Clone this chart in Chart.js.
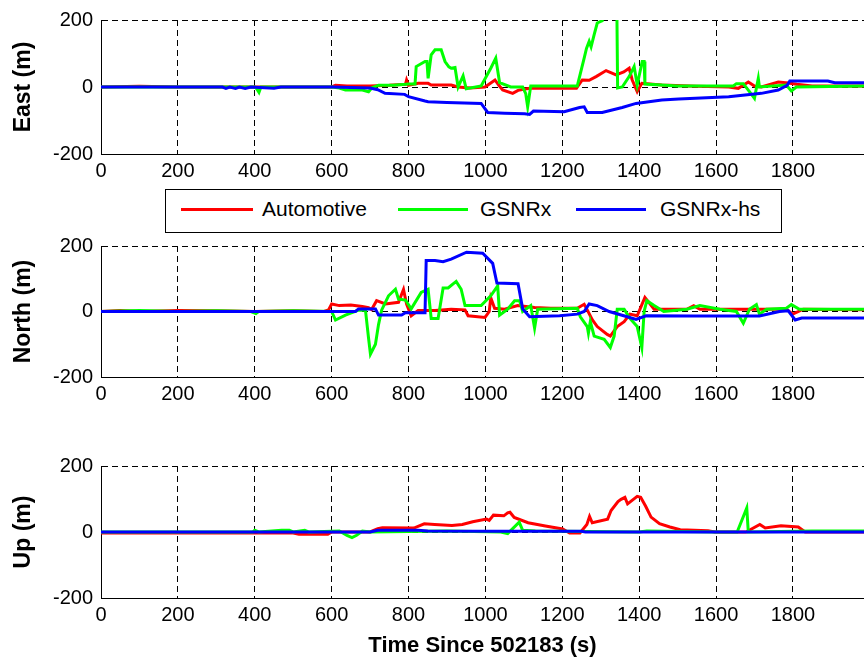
<!DOCTYPE html>
<html>
<head>
<script src="https://cdn.jsdelivr.net/npm/chart.js@4.4.0/dist/chart.umd.min.js"></script>
<style>
body{margin:0;background:#fff;width:864px;height:664px;overflow:hidden;position:relative;font-family:"Liberation Sans",Arial,sans-serif}
canvas{position:absolute;left:0}
#legend{position:absolute;left:165px;top:189px;width:617px;height:44px;border:1px solid #000;box-sizing:border-box;background:#fff;z-index:2}
.sw{position:absolute;height:3px;top:18px}
.lb{position:absolute;top:7px;font-size:21px;line-height:24px;color:#000}
</style>
</head>
<body>

<canvas id="east" width="864" height="190" style="top:0px"></canvas>
<canvas id="north" width="864" height="186" style="top:226px"></canvas>
<canvas id="up" width="864" height="228" style="top:436px"></canvas>

<div id="legend">
  <div class="sw" style="left:15px;width:72px;background:#ff0000"></div><div class="lb" style="left:96px">Automotive</div>
  <div class="sw" style="left:232px;width:70px;background:#00ff00"></div><div class="lb" style="left:314px">GSNRx</div>
  <div class="sw" style="left:410px;width:70px;background:#0000ff"></div><div class="lb" style="left:494px">GSNRx-hs</div>
</div>

<script>
var names = ["Automotive", "GSNRx", "GSNRx-hs"];
var colors = ["#ff0000", "#00ff00", "#0000ff"];
var xTicks = [0, 200, 400, 600, 800, 1000, 1200, 1400, 1600, 1800];
var yTicks = [-200, 0, 200];

// East error
var eastAutoT = [0,100,200,300,400,500,600,610,640,700,750,792,795,800,825,851,859,911,929,960,999,1014,1025,1035,1045,1071,1085,1115,1237,1252,1270,1288,1314,1340,1360,1374,1382,1395,1407,1459,1550,1633,1658,1684,1700,1718,1762,1788,1810,1850,1985];
var eastAutoV = [0,2,0,0,0,0,0,5,3,3,5,8,21,5,11,11,6,6,0,-3,0,12,21,5,-9,-19,-10,-4,-4,21,20,31,49,36,45,56,21,-14,11,6,2,0,-4,15,3,0,15,12,8,3,3];
var eastGsT = [0,300,400,405,411,416,500,600,620,636,680,696,705,722,760,792,800,817,820,843,848,851,859,869,885,895,905,911,921,929,942,950,989,1014,1027,1037,1066,1097,1105,1110,1118,1180,1239,1247,1257,1263,1270,1275,1283,1291,1304,1309,1342,1344,1356,1374,1387,1395,1408,1413,1415,1500,1645,1653,1671,1687,1700,1710,1713,1783,1796,1809,1985];
var eastGsV = [0,0,0,-5,-16,0,0,0,-3,-9,-9,-14,-2,5,5,8,9,9,61,76,76,26,96,111,111,76,60,56,58,0,33,-5,3,56,86,13,0,0,-20,-59,3,3,3,40,86,115,136,120,156,191,198,240,240,-3,0,31,61,6,76,76,9,3,3,10,10,-14,-34,26,0,6,-12,0,3];
var eastHsT = [0,316,325,335,350,360,375,390,450,468,600,700,720,739,790,800,843,851,900,989,1006,1050,1102,1115,1125,1205,1245,1257,1265,1304,1356,1392,1459,1503,1633,1718,1762,1785,1792,1891,1909,1985];
var eastHsV = [0,0,-4,0,-4,0,-4,0,-4,0,0,-3,-8,-19,-22,-29,-42,-44,-46,-49,-76,-78,-80,-82,-72,-74,-61,-59,-76,-76,-61,-49,-39,-36,-29,-19,-9,5,18,18,13,13];

// North error
var northAutoT = [0,50,100,200,300,400,500,580,592,600,620,650,680,696,704,717,740,774,787,795,807,825,869,911,947,955,999,1010,1014,1024,1050,1084,1128,1170,1239,1257,1265,1278,1291,1317,1325,1343,1361,1376,1395,1415,1439,1524,1542,1558,1783,1800,1827,1985];
var northAutoV = [0,3,0,3,2,0,2,0,5,23,18,20,15,12,6,33,23,28,67,23,-13,3,3,7,5,-13,-18,0,42,10,7,18,12,10,10,22,5,-25,-46,-70,-75,-46,-31,-8,-13,43,7,7,18,7,7,-8,7,5];
var northGsT = [0,100,200,300,390,403,410,500,600,610,636,670,688,696,701,714,722,730,748,766,774,792,807,833,851,859,877,890,903,924,937,947,989,1014,1032,1037,1058,1076,1089,1097,1118,1128,1136,1239,1247,1265,1268,1273,1283,1309,1325,1335,1343,1361,1376,1395,1407,1413,1420,1439,1464,1524,1558,1610,1653,1671,1687,1705,1713,1731,1783,1796,1817,1985];
var northGsV = [0,3,0,2,0,-6,0,2,0,-26,-11,4,4,-81,-130,-100,-40,4,48,68,38,35,8,58,68,-21,-21,72,72,92,68,18,18,48,78,-11,7,33,33,0,18,-51,7,10,-16,-46,-66,-31,-75,-85,-110,-75,7,7,-21,-46,-110,0,33,18,0,7,18,7,0,-36,7,21,-8,7,10,21,7,7];
var northHsT = [0,662,670,714,722,782,792,843,846,869,890,911,951,993,1019,1030,1085,1097,1115,1193,1239,1257,1270,1291,1322,1369,1392,1418,1542,1713,1765,1788,1806,1823,1985];
var northHsV = [0,0,8,8,-11,-11,-4,-4,156,156,152,160,181,178,147,87,85,8,-16,-13,-8,0,23,18,0,-16,-24,-13,-14,-14,0,2,-26,-20,-20];

// Up error
var upAutoT = [0,500,515,590,600,700,720,732,814,841,868,913,940,967,1003,1010,1021,1048,1058,1064,1075,1111,1156,1201,1219,1246,1264,1271,1278,1318,1327,1345,1353,1363,1370,1395,1404,1417,1431,1453,1480,1507,1579,1597,1678,1714,1728,1769,1814,1832,1985];
var upAutoV = [-3,-3,-7,-7,0,0,10,13,12,25,23,20,23,31,39,35,51,49,58,60,44,28,18,9,-3,-3,23,47,28,39,65,92,99,105,85,108,105,78,45,25,15,7,4,0,0,23,12,19,15,0,0];
var upGsT = [0,395,400,410,470,490,500,530,540,620,640,653,665,680,700,900,1040,1058,1088,1097,1130,1400,1420,1600,1655,1680,1684,1850,1985];
var upGsV = [0,0,5,0,5,5,0,5,0,3,-10,-17,-10,3,0,3,0,-5,30,5,3,0,3,0,0,73,0,3,3];
var upHsT = [0,700,720,825,850,1000,1250,1260,1985];
var upHsV = [0,0,5,5,3,2,2,0,0];

function pts(t, v) {
  return t.map(function (x, i) { return {x: x, y: v[i]}; });
}

function plain(v) { return String(v); }

function panel(id, padTop, xHeight, yTitle, series, xTitle) {
  var sets = series.map(function (s, i) {
    return {
      label: names[i],
      data: pts(s[0], s[1]),
      borderColor: colors[i],
      backgroundColor: colors[i],
      borderWidth: 3,
      pointRadius: 0,
      tension: 0,
      order: 3 - i
    };
  });
  return new Chart(id, {
    type: "line",
    data: {datasets: sets},
    options: {
      responsive: false,
      animation: false,
      events: [],
      layout: {padding: {top: padTop, left: 0, right: 0, bottom: 0}},
      plugins: {legend: {display: false}, tooltip: {enabled: false}},
      scales: {
        x: {
          type: "linear",
          min: 0,
          max: 1985,
          afterBuildTicks: function (scale) {
            scale.ticks = xTicks.map(function (v) { return {value: v}; });
          },
          afterFit: function (scale) { scale.height = xHeight; },
          ticks: {color: "#000", font: {family: "Liberation Sans", size: 20}, padding: 5, maxRotation: 0, autoSkip: false, callback: plain},
          grid: {color: "#000", lineWidth: 1, drawTicks: false},
          border: {display: true, color: "#000", width: 1, dash: [6, 4]},
          title: {
            display: !!xTitle,
            text: xTitle || "",
            color: "#000",
            font: {family: "Liberation Sans", size: 22, weight: "bold"},
            padding: {top: 0, bottom: 5}
          }
        },
        y: {
          min: -200,
          max: 200,
          afterBuildTicks: function (scale) {
            scale.ticks = yTicks.map(function (v) { return {value: v}; });
          },
          afterFit: function (scale) { scale.width = 101; },
          ticks: {color: "#000", font: {family: "Liberation Sans", size: 20}, padding: 8, callback: plain},
          grid: {color: "#000", lineWidth: 1, drawTicks: false},
          border: {display: true, color: "#000", width: 1, dash: [6, 4]},
          title: {
            display: true,
            text: yTitle,
            color: "#000",
            font: {family: "Liberation Sans", size: 23, weight: "bold"},
            padding: {top: 10, bottom: 0}
          }
        }
      }
    }
  });
}

panel("east", 20, 36, "East (m)", [[eastAutoT, eastAutoV], [eastGsT, eastGsV], [eastHsT, eastHsV]]);
panel("north", 16, 35, "North (m)", [[northAutoT, northAutoV], [northGsT, northGsV], [northHsT, northHsV]]);
panel("up", 30, 66, "Up (m)", [[upAutoT, upAutoV], [upGsT, upGsV], [upHsT, upHsV]], "Time Since 502183 (s)");
</script>
</body>
</html>
